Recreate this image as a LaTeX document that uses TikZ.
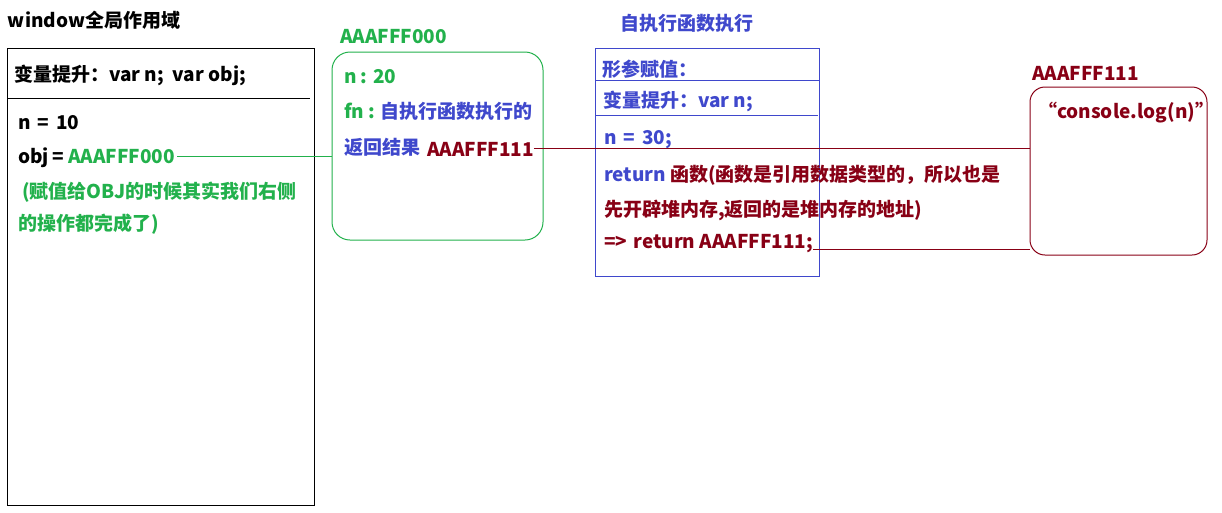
\documentclass[tikz,border=0pt]{standalone}
\usepackage{fontspec}
\setmainfont{Noto Sans CJK SC}
\definecolor{pgreen}{RGB}{34,177,76}
\definecolor{pblue}{RGB}{63,72,204}
\definecolor{pred}{RGB}{136,0,21}
\newcommand{\eqsp}{\hspace{7pt}=\hspace{7pt}}
\begin{document}
\begin{tikzpicture}[x=1pt,y=-1pt,
  every node/.style={inner sep=0pt, outer sep=0pt, anchor=west,
    font=\fontsize{19}{21}\selectfont\bfseries},
  frame/.style={draw, line width=1pt, anchor=north west},
  conn/.style={line width=1pt}]
\useasboundingbox (0,0) rectangle (1222,512);
% left: window scope
\node (wtitle) at (8,20) {window全局作用域};
\node[frame, draw=black, minimum width=307pt, minimum height=457pt] (win) at (7,48) {};
\draw[line width=1pt] (7,98) -- (310,98);
\node (whoist) at (14,75) {变量提升：var n;\ \ var obj;};
\node (wn) at (18,123) {n\eqsp{}10};
\node (wobj) at (18,158) {obj\hspace{4pt}=\hspace{4pt}\textcolor{pgreen}{AAAFFF000}};
\node[text=pgreen] (wnote1) at (22,192) {(赋值给OBJ的时候其实我们右侧};
\node[text=pgreen] (wnote2) at (18,224) {的操作都完成了)};
% heap AAAFFF000
\node[text=pgreen] (hAlabel) at (340,37) {AAAFFF000};
\node[frame, draw=pgreen, rounded corners=18pt, minimum width=211pt, minimum height=188pt] (heapA) at (332,52) {};
\node[text=pgreen] (hAn) at (344,77) {n : 20};
\node[text=pgreen] (hAfn) at (344,111) {fn : \textcolor{pblue}{自执行函数执行的}};
\node[text=pblue] (hAret) at (344,147) {返回结果};
\node[text=pred] (hAaddr) at (427,149) {AAAFFF111};
% function execution
\node[text=pblue] (ftitle) at (620,23) {自执行函数执行};
\node[frame, draw=pblue, minimum width=224pt, minimum height=228pt] (fbox) at (595,48) {};
\draw[pblue, line width=1pt] (595,80) -- (819,80);
\draw[pblue, line width=1pt] (595,115) -- (818,115);
\node[text=pblue] (fparam) at (602,69) {形参赋值：};
\node[text=pblue] (fhoist) at (603,101) {变量提升：var n;};
\node[text=pblue] (fn30) at (604,140) {n\eqsp{}30;};
\node[text=pblue] (fret1) at (604,175) {return \textcolor{pred}{函数(函数是引用数据类型的，所以也是}};
\node[text=pred] (fret2) at (604,210) {先开辟堆内存,返回的是堆内存的地址)};
\node[text=pred] (fret3) at (604,244) {=>\hspace{2pt} return AAAFFF111;};
% heap AAAFFF111
\node[text=pred] (hBlabel) at (1032,73) {AAAFFF111};
\node[frame, draw=pred, rounded corners=15pt, minimum width=177pt, minimum height=168pt] (heapB) at (1030,87) {};
\node[text=pred] (hBcode) at (1038,113) {“console.log(n)”};
% connectors
\draw[conn, pgreen] (wobj.east) ++(2,-2) coordinate (c1) -- (c1 -| heapA.west);
\draw[conn, pred] (hAaddr.east) ++(0,-1) coordinate (c2) -- (c2 -| heapB.west);
\draw[conn, pred] (fret3.base east) ++(0,1) coordinate (c3) -- (c3 -| heapB.west);
\end{tikzpicture}
\end{document}
